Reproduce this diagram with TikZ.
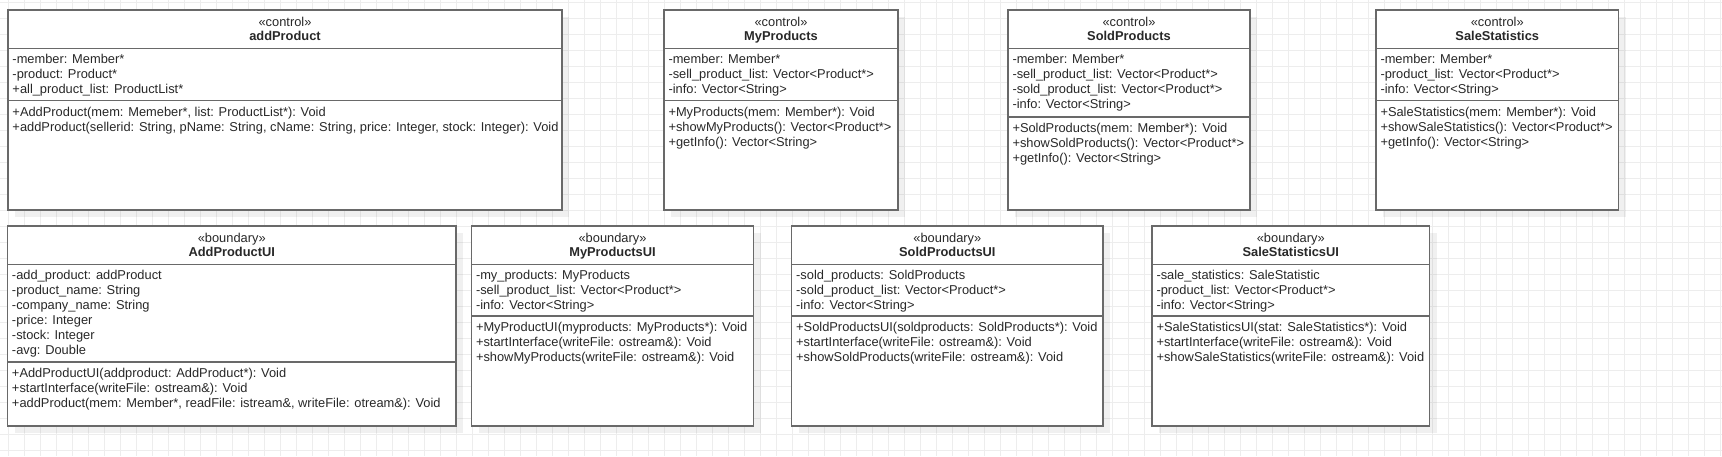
\documentclass[tikz,border=0pt]{standalone}
\usepackage{fontspec}
\setmainfont{Liberation Sans}
\definecolor{bordercol}{RGB}{105,105,105}
\definecolor{gridcol}{RGB}{237,237,237}
\definecolor{textcol}{RGB}{40,40,40}
\tikzset{
  classbox/.style={draw=bordercol, line width=1.3pt, fill=white, inner sep=0pt, outer sep=0pt, minimum height=200pt, anchor=north west},
  boxline/.style={draw=bordercol, line width=1.3pt},
  gridline/.style={draw=gridcol, line width=1pt},
  shadowbox/.style={fill=black, fill opacity=0.06},
  txt/.style={inner sep=0pt, outer sep=0pt, text=textcol, font=\fontsize{12.85}{15}\selectfont},
  ttl/.style={txt, font=\fontsize{12.85}{15}\selectfont\bfseries}
}
% #1 id, #2 left, #3 right, #4 top, #5 attr sep offset, #6 stereotype, #7 title, #8 attrs, #9 methods
\newcommand\umlclass[9]{%
  \fill[shadowbox] (#2+7,#4+7) rectangle (#3+7,#4+207);
  \node[classbox, minimum width={#3pt-#2pt}] (#1) at (#2,#4) {};
  \draw[boxline] ([yshift=-38.3pt]#1.north west) -- ([yshift=-38.3pt]#1.north east);
  \draw[boxline] ([yshift=-#5pt]#1.north west) -- ([yshift=-#5pt]#1.north east);
  \node[txt, anchor=base] (#1-st) at ([yshift=-16pt]#1.north) {#6};
  \node[ttl, anchor=base] (#1-t) at ([yshift=-30.5pt]#1.north) {#7};
  \foreach \l [count=\i] in {#8}
    \node[txt, anchor=base west] (#1-a\i) at ([xshift=4.5pt, yshift={-(38.3+15.5+15*(\i-1))}]#1.north west) {\l};
  \foreach \l [count=\i] in {#9}
    \node[txt, anchor=base west] (#1-m\i) at ([xshift=4.5pt, yshift={-(#5+15.5+15*(\i-1))}]#1.north west) {\l};
}
\begin{document}
\begin{tikzpicture}[x=1pt, y=-1pt]
\useasboundingbox (0,0) rectangle (1722,456);
\fill[white] (0,0) rectangle (1722,456);
\foreach \gx in {8.3,24.3,...,1722} \draw[gridline] (\gx,0) -- (\gx,456);
\foreach \gy in {2,18,...,456} \draw[gridline] (0,\gy) -- (1722,\gy);

\umlclass{addP}{8}{562}{10}{90.5}{«control»}{addProduct}
 {{-member: Member*},{-product: Product*},{+all\_product\_list: ProductList*}}
 {{+AddProduct(mem: Memeber*, list: ProductList*): Void},{+addProduct(sellerid: String, pName: String, cName: String, price: Integer, stock: Integer): Void}}

\umlclass{myP}{664}{898}{10}{90.5}{«control»}{MyProducts}
 {{-member: Member*},{-sell\_product\_list: Vector<Product*>},{-info: Vector<String>}}
 {{+MyProducts(mem: Member*): Void},{+showMyProducts(): Vector<Product*>},{+getInfo(): Vector<String>}}

\umlclass{soldP}{1008}{1250}{10}{107}{«control»}{SoldProducts}
 {{-member: Member*},{-sell\_product\_list: Vector<Product*>},{-sold\_product\_list: Vector<Product*>},{-info: Vector<String>}}
 {{+SoldProducts(mem: Member*): Void},{+showSoldProducts(): Vector<Product*>},{+getInfo(): Vector<String>}}

\umlclass{saleS}{1376}{1618.5}{10}{90.5}{«control»}{SaleStatistics}
 {{-member: Member*},{-product\_list: Vector<Product*>},{-info: Vector<String>}}
 {{+SaleStatistics(mem: Member*): Void},{+showSaleStatistics(): Vector<Product*>},{+getInfo(): Vector<String>}}

\umlclass{addUI}{7.5}{456}{226}{136}{«boundary»}{AddProductUI}
 {{-add\_product: addProduct},{-product\_name: String},{-company\_name: String},{-price: Integer},{-stock: Integer},{-avg: Double}}
 {{+AddProductUI(addproduct: AddProduct*): Void},{+startInterface(writeFile: ostream\&): Void},{+addProduct(mem: Member*, readFile: istream\&, writeFile: otream\&): Void}}

\umlclass{myUI}{471.5}{753.5}{226}{90}{«boundary»}{MyProductsUI}
 {{-my\_products: MyProducts},{-sell\_product\_list: Vector<Product*>},{-info: Vector<String>}}
 {{+MyProductUI(myproducts: MyProducts*): Void},{+startInterface(writeFile: ostream\&): Void},{+showMyProducts(writeFile: ostream\&): Void}}

\umlclass{soldUI}{791.7}{1103}{226}{90}{«boundary»}{SoldProductsUI}
 {{-sold\_products: SoldProducts},{-sold\_product\_list: Vector<Product*>},{-info: Vector<String>}}
 {{+SoldProductsUI(soldproducts: SoldProducts*): Void},{+startInterface(writeFile: ostream\&): Void},{+showSoldProducts(writeFile: ostream\&): Void}}

\umlclass{saleUI}{1152}{1429.5}{226}{90}{«boundary»}{SaleStatisticsUI}
 {{-sale\_statistics: SaleStatistic},{-product\_list: Vector<Product*>},{-info: Vector<String>}}
 {{+SaleStatisticsUI(stat: SaleStatistics*): Void},{+startInterface(writeFile: ostream\&): Void},{+showSaleStatistics(writeFile: ostream\&): Void}}
\end{tikzpicture}
\end{document}
